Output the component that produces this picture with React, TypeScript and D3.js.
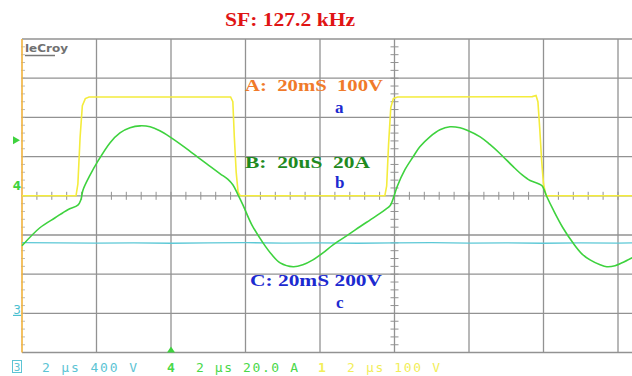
import React from 'react';
import * as d3 from 'd3';

// time in µs from the left edge of the screen (2 µs/div)
const traceA_t = [0, 1.45, 1.5, 1.56, 1.62, 1.7, 1.8, 5.6, 5.66, 5.7, 5.75, 5.8, 5.86, 9.74, 9.79, 9.84, 9.9, 9.97, 10.08, 13.7, 13.8, 13.85, 13.9, 13.95, 14.0, 14.07, 16.5];
// channel 1, volts (100 V/div)
const traceA_v = [0, 0, 30, 150, 230, 248, 252, 252, 240, 150, 60, 10, 0, 0, 25, 130, 225, 248, 252, 253, 256, 240, 170, 90, 30, 0, 0];

const traceB_t = [0, 0.48, 0.89, 1.23, 1.5, 1.58, 1.64, 1.83, 2.01, 2.36, 2.63, 2.9, 3.17, 3.44, 3.7, 3.97, 4.38, 4.78, 5.05, 5.32, 5.53, 5.66, 5.8, 5.93, 6.17, 6.47, 6.71, 6.93, 7.28, 7.54, 7.81, 8.08, 8.35, 8.81, 9.07, 9.34, 9.61, 9.77, 9.88, 9.99, 10.07, 10.28, 10.5, 10.68, 10.95, 11.22, 11.49, 11.76, 11.95, 12.3, 12.56, 12.83, 13.18, 13.42, 13.64, 13.85, 13.96, 14.09, 14.26, 14.52, 14.79, 15.03, 15.25, 15.52, 15.7, 15.92, 16.11, 16.38];
// channel 4, amps (20 A/div)
const traceB_a = [-25.5, -16.3, -11.2, -7.1, -4.8, -2.0, 3.1, 10.7, 16.8, 27.0, 32.1, 34.7, 35.7, 35.2, 33.2, 30.1, 24.6, 18.8, 15.0, 11.2, 8.4, 5.6, 0.5, -4.6, -14.8, -24.0, -30.1, -34.2, -36.2, -35.2, -32.7, -29.1, -25.0, -19.2, -15.8, -12.4, -9.0, -6.8, -5.1, 0, 4.6, 13.3, 19.9, 25.0, 30.1, 33.7, 35.2, 34.7, 33.5, 30.1, 26.2, 21.6, 15.0, 10.8, 7.8, 6.3, 5.1, -0.5, -7.1, -16.3, -24.0, -29.6, -32.7, -35.2, -36.2, -35.7, -34.2, -31.6];

const traceC_t = [0, 1, 2, 3, 4, 5, 6, 7, 8, 9, 10, 11, 12, 13, 14, 15, 16, 16.5];
// channel 3, volts (400 V/div)
const traceC_v = [-478, -480, -482, -480, -484, -480, -478, -482, -480, -484, -480, -478, -482, -480, -484, -480, -482, -480];

const bottomLabels = [
  { ch: '3', text: '2 µs 400 V', color: '#5cc4d4' },
  { ch: '4', text: '2 µs 20.0 A', color: '#4ad84a' },
  { ch: '1', text: '2 µs 100 V', color: '#f2ee5a' },
];

const W = 632;
const H = 376;
const LEFT = 22;
const DIV_X = 74.5;
const TOP = 39;
const DIV_Y = 39.2;
const BOTTOM = TOP + 8 * DIV_Y;
const CX = LEFT + 5 * DIV_X;

const App = () => {
  const x = d3.scaleLinear().domain([0, 20]).range([LEFT, LEFT + 10 * DIV_X]);
  const yDiv = d3.scaleLinear().domain([-4, 4]).range([BOTTOM, TOP]);
  const yA = d3.scaleLinear().domain([-400, 400]).range([BOTTOM, TOP]);
  const yB = d3.scaleLinear().domain([-80, 80]).range([BOTTOM, TOP]);
  const yC = d3.scaleLinear().domain([-1600, 1600]).range([BOTTOM, TOP]);
  const CY = yDiv(0);

  const lineA = d3.line<number>().x((d, i) => x(traceA_t[i])).y(d => yA(d));
  const lineB = d3.line<number>().x((d, i) => x(traceB_t[i])).y(d => yB(d)).curve(d3.curveCatmullRom);
  const lineC = d3.line<number>().x((d, i) => x(traceC_t[i])).y(d => yC(d));

  const vLines = d3.range(1, 10).map(i => x(i * 2)).filter(v => v < W);
  const hLines = d3.range(-3, 4).map(i => yDiv(i));
  const hTicks = d3.range(1, 60).map(i => x(i * 0.4)).filter(v => v < W);
  const vTicks = d3.range(-19, 20).map(i => yDiv(i * 0.2));

  const grid = '#929292';

  return (
    <div style={{ position: 'absolute', left: 0, top: 0 }}>
      <svg width={W} height={H} style={{ display: 'block', background: '#fff' }}>
        <text x={290} y={26} textAnchor="middle" fontFamily="Liberation Serif, Times New Roman, serif"
          fontWeight="bold" fontSize={19} fill="#e01414" textLength={130} lengthAdjust="spacingAndGlyphs">
          SF: 127.2 kHz
        </text>

        {/* graticule */}
        {vLines.map((v, i) => (
          <line key={'v' + i} x1={v} x2={v} y1={TOP} y2={BOTTOM} stroke={grid} strokeWidth={1.3} />
        ))}
        {hLines.map((v, i) => (
          <line key={'h' + i} x1={LEFT} x2={W} y1={v} y2={v} stroke={grid} strokeWidth={1.3} />
        ))}
        <line x1={LEFT} x2={W} y1={TOP} y2={TOP} stroke={grid} strokeWidth={1.5} />
        <line x1={LEFT} x2={W} y1={BOTTOM} y2={BOTTOM} stroke={grid} strokeWidth={1.5} />
        {hTicks.map((v, i) => (
          <line key={'ht' + i} x1={v} x2={v} y1={CY - 4} y2={CY + 4} stroke={grid} strokeWidth={1} />
        ))}
        {vTicks.map((v, i) => (
          <line key={'vt' + i} x1={CX - 4} x2={CX + 4} y1={v} y2={v} stroke={grid} strokeWidth={1} />
        ))}
        {vTicks.map((v, i) => (
          <line key={'lt' + i} x1={LEFT - 1} x2={LEFT + 3} y1={v} y2={v} stroke="#aaa" strokeWidth={0.8} />
        ))}
        <line x1={LEFT} x2={LEFT} y1={TOP} y2={BOTTOM} stroke="#f0b23c" strokeWidth={1.6} />

        <text x={25} y={52} fontFamily="DejaVu Sans, sans-serif" fontWeight="bold" fontSize={11}
          fill="#707070" textLength={43} lengthAdjust="spacingAndGlyphs">leCroy</text>
        <line x1={25} x2={55} y1={55.5} y2={55.5} stroke="#777" strokeWidth={1.5} />

        {/* traces */}
        <path d={lineC(traceC_v) || ''} fill="none" stroke="#5cc8d6" strokeWidth={1.3} />
        <path d={lineA(traceA_v) || ''} fill="none" stroke="#f4ec3c" strokeWidth={1.6} />
        <path d={lineB(traceB_a) || ''} fill="none" stroke="#3ed23e" strokeWidth={1.6} />

        {/* channel markers */}
        <path d={`M${LEFT - 9},${yDiv(1.42) - 4} L${LEFT - 2},${yDiv(1.42)} L${LEFT - 9},${yDiv(1.42) + 4} Z`} fill="#3ed23e" />
        <text x={17} y={yDiv(0.28) + 5} textAnchor="middle" fontFamily="DejaVu Sans, sans-serif" fontSize={12}
          fontWeight="bold" fill="#3ed23e">4</text>
        <text x={17} y={yDiv(-2.9) + 5} textAnchor="middle" fontFamily="DejaVu Sans, sans-serif" fontSize={12}
          fill="#4cc0d0">3</text>
        <line x1={13} x2={21} y1={yDiv(-3.0) + 2} y2={yDiv(-3.0) + 2} stroke="#4cc0d0" strokeWidth={1.2} />
        <path d={`M${x(4) - 4},${BOTTOM} L${x(4)},${BOTTOM - 6} L${x(4) + 4},${BOTTOM} Z`} fill="#3ed23e" />

        {/* annotations */}
        <g fontFamily="Liberation Serif, Times New Roman, serif" fontWeight="bold" fontSize={16}>
          <text x={245} y={91} fill="#f07a2a" textLength={138} lengthAdjust="spacingAndGlyphs" style={{ whiteSpace: 'pre' }}>A:  20mS  100V</text>
          <text x={335} y={113} fill="#1c2ad0" fontSize={17}>a</text>
          <text x={245} y={168} fill="#1f8a1f" textLength={125} lengthAdjust="spacingAndGlyphs" style={{ whiteSpace: 'pre' }}>B:  20uS  20A</text>
          <text x={335} y={188} fill="#1c2ad0" fontSize={17}>b</text>
          <text x={250} y={286} fill="#1c2ad0" textLength={132} lengthAdjust="spacingAndGlyphs">C: 20mS 200V</text>
          <text x={336} y={308} fill="#1c2ad0" fontSize={17}>c</text>
        </g>

        {/* bottom channel readout */}
        <g fontFamily="DejaVu Sans Mono, monospace" fontSize={13}>
          <rect x={12.5} y={360.5} width={9} height={12} fill="none" stroke={bottomLabels[0].color} strokeWidth={1} />
          <text x={17} y={371} textAnchor="middle" fill={bottomLabels[0].color} fontSize={11}>{bottomLabels[0].ch}</text>
          <text x={42} y={372} fill={bottomLabels[0].color} textLength={95} lengthAdjust="spacing">{bottomLabels[0].text}</text>
          <text x={171} y={372} textAnchor="middle" fill={bottomLabels[1].color} fontWeight="bold">{bottomLabels[1].ch}</text>
          <text x={196} y={372} fill={bottomLabels[1].color} textLength={102} lengthAdjust="spacing">{bottomLabels[1].text}</text>
          <text x={322} y={372} textAnchor="middle" fill={bottomLabels[2].color} fontWeight="bold">{bottomLabels[2].ch}</text>
          <text x={347} y={372} fill={bottomLabels[2].color} textLength={93} lengthAdjust="spacing">{bottomLabels[2].text}</text>
        </g>
      </svg>
    </div>
  );
};

export default App;
